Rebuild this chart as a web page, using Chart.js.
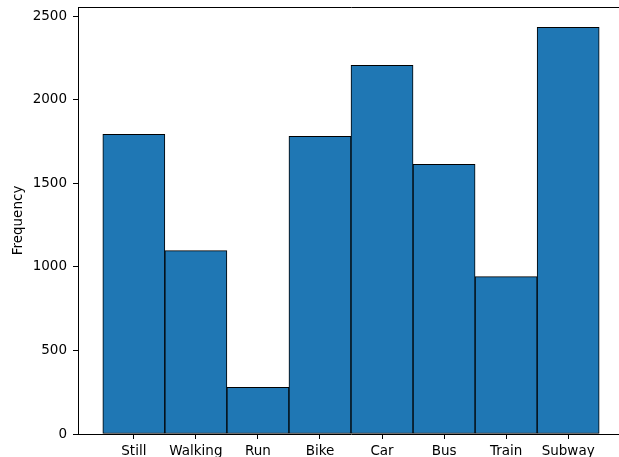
<!DOCTYPE html>
<html>
<head>
<meta charset="utf-8">
<script src="https://cdn.jsdelivr.net/npm/chart.js@4/dist/chart.umd.min.js"></script>
<style>
  html, body { margin: 0; padding: 0; background: #fff; overflow: hidden; width: 619px; height: 457px; }
  #wrap { position: absolute; left: 0; top: 0; width: 632px; height: 457px; }
</style>
</head>
<body>
<div id="wrap"><canvas id="c" width="632" height="457"></canvas></div>
<script>
// Activity modes and how often each one occurs
const categories = ['Still', 'Walking', 'Run', 'Bike', 'Car', 'Bus', 'Train', 'Subway'];
const counts = [1795, 1098, 280, 1783, 2208, 1615, 942, 2435];
const yTicks = [0, 500, 1000, 1500, 2000, 2500];

const FONT = { family: 'DejaVu Sans', size: 13.5 };
const INK = '#000000';

// 5% margin around the data, like a default histogram layout
const n = categories.length;
const xMin = -0.5 - 0.05 * n;
const xMax = (n - 0.5) + 0.05 * n;
const yMax = Math.max(...counts) * 1.05;

const noEdgePad = s => { s.paddingTop = 0; s.paddingBottom = 0; s.paddingLeft = 0; s.paddingRight = 0; };

new Chart(document.getElementById('c'), {
  type: 'bar',
  data: {
    datasets: [{
      data: counts.map((v, i) => ({ x: i, y: v })),
      backgroundColor: '#1f77b4',
      borderColor: INK,
      borderWidth: 1,
      borderSkipped: false,
      barPercentage: 1,
      categoryPercentage: 1
    }]
  },
  options: {
    responsive: false,
    animation: false,
    devicePixelRatio: 1,
    layout: { padding: { left: 0, right: 8, top: 7, bottom: 0 } },
    plugins: { legend: { display: false }, tooltip: { enabled: false } },
    scales: {
      x: {
        type: 'linear',
        position: 'bottom',
        offset: false,
        min: xMin,
        max: xMax,
        afterBuildTicks: s => { s.ticks = categories.map((_, i) => ({ value: i })); },
        afterFit: s => { s.height = 23; noEdgePad(s); },
        grid: { offset: false, drawOnChartArea: false, drawTicks: true, tickLength: 5, tickColor: INK, tickWidth: 1 },
        border: { display: true, color: INK, width: 1 },
        ticks: {
          autoSkip: false, maxRotation: 0, color: INK, font: FONT, padding: 4,
          callback: v => categories[v]
        }
      },
      xTop: {
        type: 'linear',
        position: 'top',
        offset: false,
        min: xMin,
        max: xMax,
        afterFit: s => { s.height = 0; noEdgePad(s); },
        grid: { display: false, drawTicks: false },
        border: { display: true, color: INK, width: 1 },
        ticks: { display: false }
      },
      y: {
        type: 'linear',
        min: 0,
        max: yMax,
        afterBuildTicks: s => { s.ticks = yTicks.map(v => ({ value: v })); },
        afterFit: s => { s.width = 78; noEdgePad(s); },
        grid: { drawOnChartArea: false, drawTicks: true, tickLength: 5, tickColor: INK, tickWidth: 1 },
        border: { display: true, color: INK, width: 1 },
        ticks: { color: INK, font: FONT, padding: 6, callback: v => String(v) },
        title: { display: true, text: 'Frequency', color: INK, font: FONT, padding: { top: 10, bottom: 0 } }
      }
    }
  }
});
</script>
</body>
</html>
